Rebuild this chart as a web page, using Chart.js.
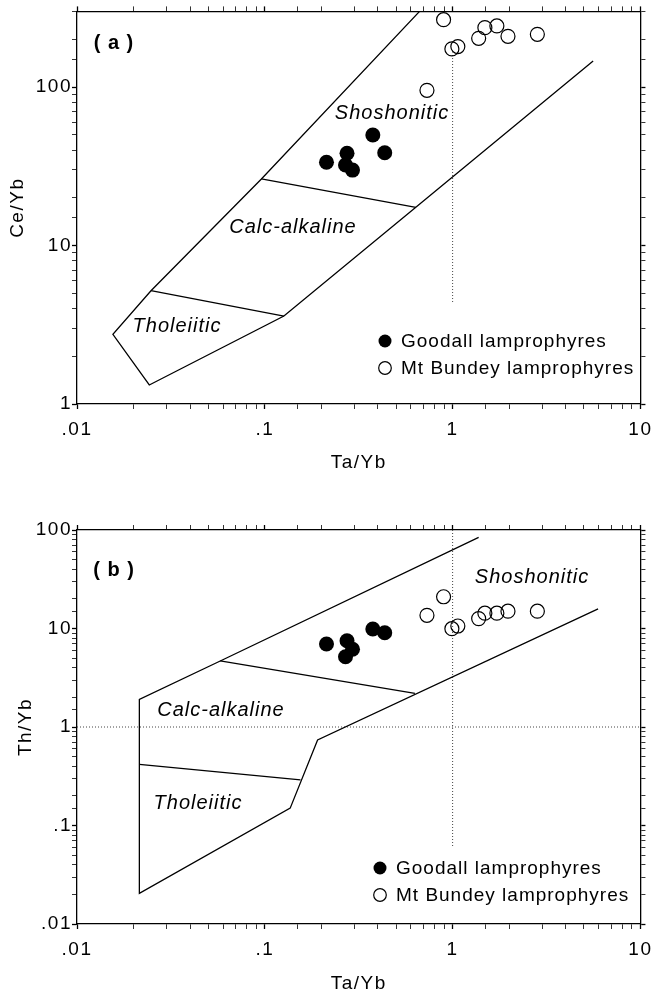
<!DOCTYPE html>
<html>
<head>
<meta charset="utf-8">
<script src="https://cdn.jsdelivr.net/npm/chart.js@4.4.1/dist/chart.umd.min.js"></script>
<style>
	body { margin: 0; background: #fff; }
	canvas { display: block; }
</style>
</head>
<body>
<canvas id="grafico_a" width="660" height="480"></canvas>
<canvas id="grafico_b" width="660" height="513"></canvas>
<script>
// sample values
var seriesNames = ["Goodall lamprophyres", "Mt Bundey lamprophyres"];

var goodallTaYb = [0.213, 0.274, 0.269, 0.293, 0.376, 0.435];
var goodallCeYb = [33.5, 38.2, 32.2, 29.9, 49.8, 38.5];
var goodallThYb = [6.96, 7.52, 5.17, 6.15, 9.89, 9.06];

var bundeyTaYb = [0.895, 1.485, 1.72, 1.376, 1.971, 2.826, 0.991, 1.066, 0.73];
var bundeyCeYb = [266, 237, 243, 203, 209, 215, 174, 180, 95.3];
var bundeyThYb = [21.0, 14.3, 14.3, 12.6, 15.0, 15.0, 9.95, 10.6, 13.6];

// field boundaries (a) Ce/Yb vs Ta/Yb
var fieldA_x = [0.667, 0.0959, 0.02477, 0.01553, 0.02426, 0.1264, 0.637, 5.6];
var fieldA_y = [300, 26.3, 5.185, 2.75, 1.318, 3.59, 17.42, 145.9];
var tholCalcA_x = [0.02477, 0.1264];
var tholCalcA_y = [5.185, 3.59];
var calcShoA_x = [0.0959, 0.637];
var calcShoA_y = [26.3, 17.42];
var refA_x = [1, 1];
var refA_y = [4.4, 165];

// field boundaries (b) Th/Yb vs Ta/Yb
var fieldB_x = [1.376, 0.0579, 0.02148, 0.02148, 0.1365, 0.191, 5.95];
var fieldB_y = [84.3, 4.68, 1.91, 0.0205, 0.150, 0.738, 15.8];
var tholCalcB_x = [0.02148, 0.1549];
var tholCalcB_y = [0.418, 0.290];
var calcShoB_x = [0.0579, 0.630];
var calcShoB_y = [4.68, 2.20];
var refB1_x = [1, 1];
var refB1_y = [100, 0.06];
var refB2_x = [0.01, 10];
var refB2_y = [1, 1];

var xTickValues = [0.01, 0.1, 1, 10];
var xTickLabels = [".01", ".1", "1", "10"];
var yTickValuesA = [1, 10, 100];
var yTickLabelsA = ["1", "10", "100"];
var yTickValuesB = [0.01, 0.1, 1, 10, 100];
var yTickLabelsB = [".01", ".1", "1", "10", "100"];

Chart.defaults.font.family = "'Liberation Sans', Arial, sans-serif";
Chart.defaults.color = "#000";

function pts(xs, ys) {
	return xs.map(function (x, i) {
		return { x: x, y: ys[i] };
	});
}

function isDecade(v) {
	var l = Math.log10(v);
	return Math.abs(l - Math.round(l)) < 1e-6;
}

function labelFor(values, labels) {
	return function (v) {
		for (var i = 0; i < values.length; i++) {
			if (Math.abs(v / values[i] - 1) < 1e-6) return labels[i];
		}
		return "";
	};
}

function logAxis(position, min, max, values, labels, size, title, titlePad) {
	var horizontal = position == "top" || position == "bottom";
	return {
		type: "logarithmic",
		position: position,
		min: min,
		max: max,
		border: { display: true, color: "#000", width: 1.3 },
		grid: {
			drawOnChartArea: false,
			drawTicks: true,
			tickLength: 5,
			tickColor: "#000",
			tickWidth: function (c) {
				return c.tick && isDecade(c.tick.value) ? 1.3 : 0.8;
			},
		},
		ticks: {
			display: !!labels,
			autoSkip: false,
			maxRotation: 0,
			minRotation: 0,
			padding: horizontal ? 9 : 0,
			color: "#000",
			font: { size: 19 },
			callback: labels ? labelFor(values, labels) : function () { return ""; },
		},
		title: title
			? { display: true, text: title, color: "#000", font: { size: 19, lineHeight: 1 }, padding: titlePad }
			: { display: false },
		afterFit: function (s) {
			if (horizontal) s.height = size;
			else s.width = size;
		},
	};
}

function lineSet(xs, ys, dashed) {
	return {
		data: pts(xs, ys),
		showLine: true,
		pointRadius: 0,
		borderColor: dashed ? "#444" : "#000",
		borderWidth: dashed ? 1 : 1.3,
		borderDash: dashed ? [1, 2] : [],
		tension: 0,
		fill: false,
	};
}

// texts inside the plot: panel letter, field names, legend
var textPlugin = {
	id: "texts",
	beforeDraw: function (chart) {
		chart.ctx.letterSpacing = "1.5px";
	},
	afterDraw: function (chart, args, opts) {
		var ctx = chart.ctx;
		ctx.save();
		ctx.fillStyle = "#000";
		ctx.strokeStyle = "#000";
		ctx.textBaseline = "middle";
		ctx.textAlign = "center";
		ctx.letterSpacing = "1px";
		ctx.font = "bold 20px 'Liberation Sans', Arial";
		ctx.fillText(opts.panel[0], opts.panel[1], opts.panel[2]);
		ctx.font = "italic 20px 'Liberation Sans', Arial";
		opts.fields.forEach(function (f) {
			ctx.fillText(f[0], f[1], f[2]);
		});
		ctx.textAlign = "left";
		ctx.font = "19px 'Liberation Sans', Arial";
		var lg = opts.legend;
		ctx.beginPath();
		ctx.arc(lg[0], lg[1], 6.5, 0, Math.PI * 2);
		ctx.fill();
		ctx.fillText(seriesNames[0], lg[2], lg[1] + 1);
		ctx.beginPath();
		ctx.lineWidth = 1.2;
		ctx.arc(lg[0], lg[1] + 27, 6.3, 0, Math.PI * 2);
		ctx.stroke();
		ctx.fillText(seriesNames[1], lg[2], lg[1] + 28);
		ctx.restore();
	},
};

function scatterSets(xs, goodY, bx, bundY) {
	return [
		{
			data: pts(xs, goodY),
			pointRadius: 7.5,
			pointBackgroundColor: "#000",
			pointBorderColor: "#000",
			pointBorderWidth: 0,
			showLine: false,
		},
		{
			data: pts(bx, bundY),
			pointRadius: 7,
			pointBackgroundColor: "rgba(0,0,0,0)",
			pointBorderColor: "#000",
			pointBorderWidth: 1.2,
			showLine: false,
		},
	];
}

var chartA = new Chart(document.getElementById("grafico_a"), {
	type: "scatter",
	data: {
		datasets: scatterSets(goodallTaYb, goodallCeYb, bundeyTaYb, bundeyCeYb).concat([
			lineSet(fieldA_x, fieldA_y),
			lineSet(tholCalcA_x, tholCalcA_y),
			lineSet(calcShoA_x, calcShoA_y),
			lineSet(refA_x, refA_y, true),
		]),
	},
	options: {
		responsive: false,
		animation: false,
		devicePixelRatio: 1,
		layout: { padding: 0 },
		plugins: {
			legend: { display: false },
			tooltip: { enabled: false },
			texts: {
				panel: ["( a )", 114, 43],
				fields: [
					["Shoshonitic", 392, 113],
					["Calc-alkaline", 293, 227],
					["Tholeiitic", 177, 326],
				],
				legend: [385, 341, 401],
			},
		},
		scales: {
			x: logAxis("bottom", 0.01, 10, xTickValues, xTickLabels, 76, "Ta/Yb", { top: 0, bottom: 7.5 }),
			y: logAxis("left", 1, 300, yTickValuesA, yTickLabelsA, 77, "Ce/Yb", { top: 8.5, bottom: 0 }),
			x2: logAxis("top", 0.01, 10, null, null, 11),
			y2: logAxis("right", 1, 300, null, null, 14),
		},
	},
	plugins: [textPlugin],
});

var chartB = new Chart(document.getElementById("grafico_b"), {
	type: "scatter",
	data: {
		datasets: scatterSets(goodallTaYb, goodallThYb, bundeyTaYb, bundeyThYb).concat([
			lineSet(fieldB_x, fieldB_y),
			lineSet(tholCalcB_x, tholCalcB_y),
			lineSet(calcShoB_x, calcShoB_y),
			lineSet(refB1_x, refB1_y, true),
			lineSet(refB2_x, refB2_y, true),
		]),
	},
	options: {
		responsive: false,
		animation: false,
		devicePixelRatio: 1,
		layout: { padding: 0 },
		plugins: {
			legend: { display: false },
			tooltip: { enabled: false },
			texts: {
				panel: ["( b )", 114, 90],
				fields: [
					["Shoshonitic", 532, 97],
					["Calc-alkaline", 221, 230],
					["Tholeiitic", 198, 323],
				],
				legend: [380, 388, 396],
			},
		},
		scales: {
			x: logAxis("bottom", 0.01, 10, xTickValues, xTickLabels, 69, "Ta/Yb", { top: 0, bottom: 0 }),
			y: logAxis("left", 0.01, 100, yTickValuesB, yTickLabelsB, 77, "Th/Yb", { top: 16.5, bottom: 0 }),
			x2: logAxis("top", 0.01, 10, null, null, 50),
			y2: logAxis("right", 0.01, 100, null, null, 14),
		},
	},
	plugins: [textPlugin],
});
</script>
</body>
</html>
